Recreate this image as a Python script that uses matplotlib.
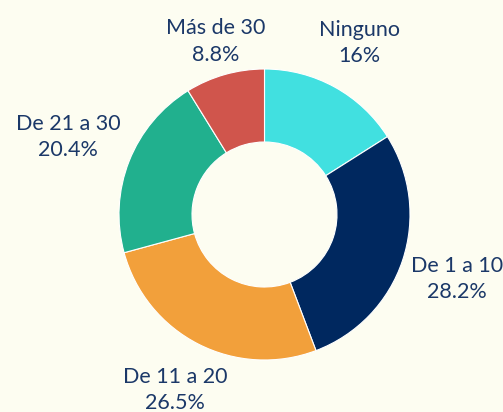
import matplotlib
matplotlib.use("Agg")
import matplotlib.pyplot as plt
import numpy as np

categories = ["Ninguno", "De 1 a 10", "De 11 a 20", "De 21 a 30", "Más de 30"]
values = [16, 28.2, 26.5, 20.4, 8.8]
value_labels = ["16%", "28.2%", "26.5%", "20.4%", "8.8%"]
colors = ["#41E0E0", "#00285F", "#F2A03B", "#21B08E", "#D0554C"]
label_dist = [196, 203, 197, 211, 180]

BG = "#FDFDF1"
TXT = "#1B3868"

W, H = 503, 412
fig = plt.figure(figsize=(W / 100, H / 100), dpi=100, facecolor=BG)
ax = fig.add_axes([0, 0, 1, 1])
ax.set_facecolor(BG)

cx, cy = 264.5, H - 214.5
R = 145.5
wedges, _ = ax.pie(values, colors=colors, startangle=90, counterclock=False,
                   radius=R, center=(cx, cy), frame=True,
                   wedgeprops=dict(width=R - 72.5, edgecolor="white", linewidth=0.8))
ax.set_xlim(0, W)
ax.set_ylim(0, H)
ax.set_aspect("equal")
ax.axis("off")

for w, cat, vl, d in zip(wedges, categories, value_labels, label_dist):
    ang = np.deg2rad((w.theta1 + w.theta2) / 2)
    x = cx + d * np.cos(ang)
    y = cy + d * np.sin(ang)
    ax.text(x, y, f"{cat}\n{vl}", ha="center", va="center", color=TXT,
            fontsize=15.5, family=["Lato", "DejaVu Sans"], linespacing=1.4)

fig.savefig("out.png", dpi=100, facecolor=BG)
